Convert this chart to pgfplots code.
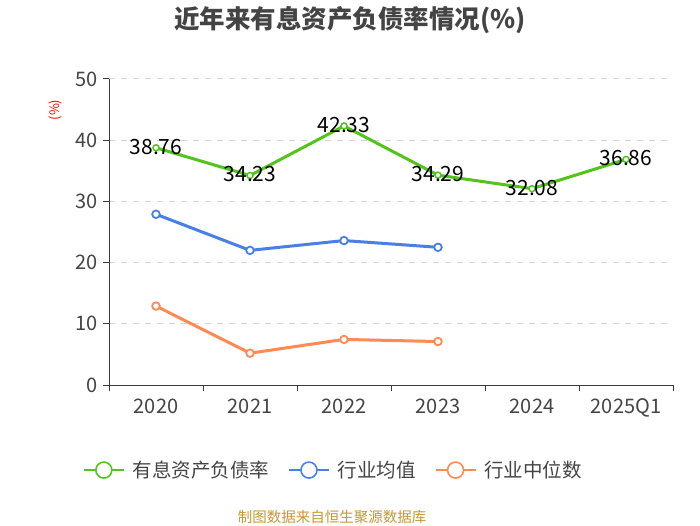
\documentclass[border=0pt]{standalone}
\usepackage{fontspec}
\setmainfont{Noto Sans CJK SC}
\usepackage{pgfplots}
\pgfplotsset{compat=1.18}
\definecolor{cgreen}{RGB}{82,196,26}
\definecolor{cblue}{RGB}{74,128,230}
\definecolor{corange}{RGB}{255,138,82}
\definecolor{cgrid}{RGB}{215,215,215}
\definecolor{caxis}{RGB}{60,60,60}
\definecolor{ctext}{RGB}{68,68,68}
\definecolor{cfoot}{RGB}{200,150,50}
\begin{document}
\begin{tikzpicture}
\path[use as bounding box] (0pt,0pt) rectangle (700pt,525pt);
\begin{axis}[
  at={(109pt,140pt)}, anchor=south west,
  scale only axis, width=564pt, height=306pt,
  xmin=-0.5, xmax=5.5, ymin=0, ymax=50,
  xtick={0,1,2,3,4,5},
  xticklabels={2020,2021,2022,2023,2024,2025Q1},
  minor xtick={-0.5,0.5,1.5,2.5,3.5,4.5,5.5},
  ytick={0,10,20,30,40,50},
  major x tick style={draw=none},
  minor x tick style={draw=caxis, line width=1pt},
  y tick style={draw=caxis, line width=1pt},
  major tick length=6pt, minor tick length=6pt,
  tick align=outside,
  xtick pos=bottom, ytick pos=left,
  axis x line*=bottom, axis y line*=left,
  axis line style={draw=caxis, line width=1pt, -},
  ymajorgrids, grid style={draw=cgrid, dash pattern=on 6pt off 6pt, line width=1pt},
  tick label style={font=\fontsize{20}{22}\selectfont, text=ctext},
  xticklabel style={yshift=-4pt},
  yticklabel style={xshift=-2pt},
  /pgf/number format/assume math mode=true,
  legend columns=3,
  legend style={at={(0.398,-0.278)}, anchor=center, draw=none, fill=none,
    font=\fontsize{19.5}{22}\selectfont, text=ctext, inner sep=0pt,
    /tikz/every odd column/.append style={column sep=6pt},
    /tikz/every even column/.append style={column sep=17pt}},
  legend image code/.code={
    \draw[#1, line width=1.6pt] (0pt,0pt) -- (40pt,0pt);
    \draw[#1, fill=white, line width=1.6pt] (20pt,0pt) circle (8pt);
  },
  clip=false,
]
\addplot[cgreen, line width=3pt, mark=*, mark size=3pt,
  mark options={fill=white, draw=cgreen, line width=1.5pt},
  nodes near coords, point meta=explicit symbolic,
  nodes near coords style={anchor=center, yshift=1pt, text=black, font=\fontsize{21}{22}\selectfont}]
  coordinates {(0,38.76)[38.76] (1,34.23)[34.23] (2,42.33)[42.33] (3,34.29)[34.29] (4,32.08)[32.08] (5,36.86)[36.86]};
\addlegendentry{有息资产负债率}
\addplot[cblue, line width=3pt, mark=*, mark size=3.8pt,
  mark options={fill=white, draw=cblue, line width=1.8pt}]
  coordinates {(0,27.9) (1,22.0) (2,23.6) (3,22.5)};
\addlegendentry{行业均值}
\addplot[corange, line width=3pt, mark=*, mark size=3.8pt,
  mark options={fill=white, draw=corange, line width=1.8pt}]
  coordinates {(0,12.9) (1,5.2) (2,7.45) (3,7.1)};
\addlegendentry{行业中位数}
\end{axis}
\node[font=\bfseries\fontsize{25.5}{28}\selectfont, text=ctext] at (350pt,505pt) {近年来有息资产负债率情况(\%)};
\node[rotate=90, text=red, font=\fontsize{13}{15}\selectfont] at (55pt,415pt) {(\%)};
\node[text=cfoot, font=\fontsize{14.5}{16}\selectfont] at (332pt,8pt) {制图数据来自恒生聚源数据库};
\end{tikzpicture}
\end{document}
